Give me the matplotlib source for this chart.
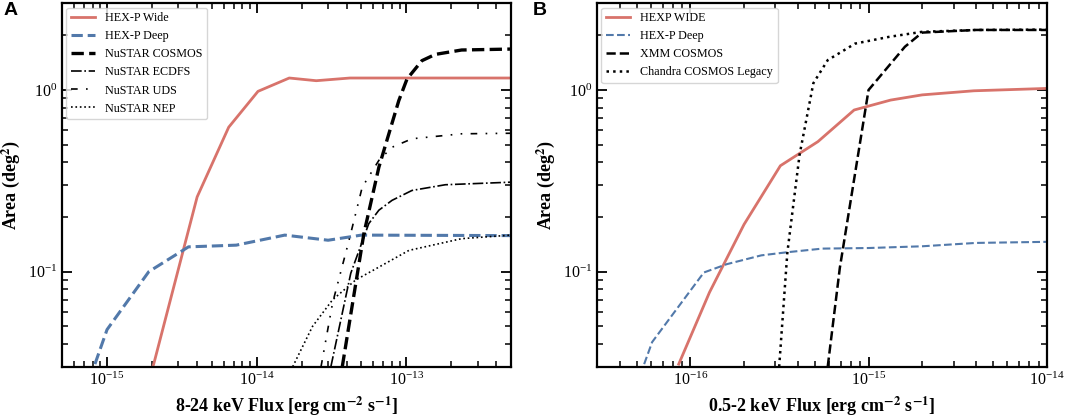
import numpy as np
import matplotlib
matplotlib.use('Agg')
import matplotlib.pyplot as plt
from matplotlib.ticker import LogLocator, NullFormatter

plt.rcParams['font.family'] = 'serif'
plt.rcParams['font.serif'] = ['Liberation Serif', 'DejaVu Serif']
plt.rcParams['mathtext.fontset'] = 'stix'

# ---- panel A: 8-24 keV ----
wide_a_x = [1.9e-15, 2.05e-15, 4.0e-15, 6.5e-15, 1.02e-14, 1.65e-14, 2.5e-14, 4.2e-14, 5e-13]
wide_a_y = [0.026, 0.031, 0.258, 0.624, 0.983, 1.164, 1.125, 1.164, 1.164]

deep_a_x = [8.3e-16, 1.0e-15, 1.9e-15, 3.5e-15, 7.3e-15, 1.54e-14, 3.0e-14, 5.0e-14, 5e-13]
deep_a_y = [0.031, 0.048, 0.100, 0.137, 0.140, 0.159, 0.149, 0.159, 0.158]

cosmos_x = [3.73e-14, 5.2e-14, 6.55e-14, 8.9e-14, 1.01e-13, 1.27e-13, 1.56e-13, 2.34e-13, 5e-13]
cosmos_y = [0.030, 0.162, 0.376, 0.874, 1.15, 1.45, 1.57, 1.66, 1.68]

ecdfs_x = [3.13e-14, 4.25e-14, 5.61e-14, 6.55e-14, 8.02e-14, 1.09e-13, 1.82e-13, 5e-13]
ecdfs_y = [0.030, 0.098, 0.184, 0.218, 0.247, 0.280, 0.301, 0.311]

uds_x = [2.69e-14, 3.21e-14, 4.14e-14, 5.07e-14, 6.55e-14, 8.02e-14, 1.09e-13, 2.34e-13, 5e-13]
uds_y = [0.030, 0.067, 0.149, 0.292, 0.41, 0.484, 0.539, 0.574, 0.578]

nep_x = [1.74e-14, 2.36e-14, 3.21e-14, 4.58e-14, 6.55e-14, 1.04e-13, 2.34e-13, 5e-13]
nep_y = [0.030, 0.050, 0.070, 0.090, 0.106, 0.131, 0.152, 0.159]

# ---- panel B: 0.5-2 keV ----
wide_b_x = [8.6e-17, 1.28e-16, 2.0e-16, 3.2e-16, 5.2e-16, 8.3e-16, 1.33e-15, 2.0e-15, 3.9e-15, 1.0e-14]
wide_b_y = [0.031, 0.077, 0.182, 0.383, 0.52, 0.776, 0.88, 0.94, 0.99, 1.02]

deep_b_x = [5.5e-17, 6.1e-17, 1.19e-16, 1.6e-16, 2.5e-16, 3.5e-16, 5.5e-16, 1.0e-15, 2.0e-15, 4.0e-15, 1.0e-14]
deep_b_y = [0.031, 0.041, 0.099, 0.110, 0.123, 0.128, 0.134, 0.135, 0.138, 0.144, 0.146]

xmm_x = [5.9e-16, 6.9e-16, 1.0e-15, 1.6e-15, 2.0e-15, 4.0e-15, 1.0e-14]
xmm_y = [0.030, 0.105, 1.0, 1.73, 2.07, 2.14, 2.14]

chandra_x = [3.15e-16, 3.5e-16, 4.1e-16, 4.9e-16, 5.9e-16, 8.4e-16, 1.3e-15, 2.0e-15, 4.0e-15, 1.0e-14]
chandra_y = [0.030, 0.127, 0.44, 1.09, 1.46, 1.80, 1.96, 2.09, 2.14, 2.15]

red = '#d8736b'
blue = '#5279aa'

fig = plt.figure(figsize=(10.65, 4.18), dpi=100)
axA = fig.add_axes([0.0582, 0.1227, 0.4216, 0.8694])
axB = fig.add_axes([0.5608, 0.1227, 0.4220, 0.8694])

axA.plot(wide_a_x, wide_a_y, color=red, lw=2.0, label='HEX-P Wide')
axA.plot(deep_a_x, deep_a_y, color=blue, lw=2.2, ls='--', label='HEX-P Deep')
axA.plot(cosmos_x, cosmos_y, color='k', lw=2.4, ls='--', label='NuSTAR COSMOS')
axA.plot(ecdfs_x, ecdfs_y, color='k', lw=1.2, ls='-.', label='NuSTAR ECDFS')
axA.plot(uds_x, uds_y, color='k', lw=1.2, ls=(0, (4, 5, 1, 5, 1, 5)), label='NuSTAR UDS')
axA.plot(nep_x, nep_y, color='k', lw=1.2, ls=':', label='NuSTAR NEP')
axA.set_xlim(5e-16, 5e-13)
axA.set_xlabel(r'8-24 keV Flux [erg cm$^{\mathbf{-2}}$ s$^{\mathbf{-1}}$]', fontsize=13, fontweight='bold')

axB.plot(wide_b_x, wide_b_y, color=red, lw=2.0, label='HEXP WIDE')
axB.plot(deep_b_x, deep_b_y, color=blue, lw=1.5, ls='--', label='HEX-P Deep')
axB.plot(xmm_x, xmm_y, color='k', lw=1.8, ls='--', label='XMM COSMOS')
axB.plot(chandra_x, chandra_y, color='k', lw=1.8, ls=':', label='Chandra COSMOS Legacy')
axB.set_xlim(3e-17, 1e-14)
axB.set_xlabel(r'0.5-2 keV Flux [erg cm$^{\mathbf{-2}}$ s$^{\mathbf{-1}}$]', fontsize=13, fontweight='bold')

for ax in (axA, axB):
    ax.set_xscale('log')
    ax.set_yscale('log')
    ax.set_ylim(0.03, 3)
    ax.set_ylabel(r'Area (deg$^{\mathbf{2}}$)', fontsize=13, fontweight='bold')
    ax.yaxis.set_minor_locator(LogLocator(base=10, subs=np.arange(2, 10)))
    ax.yaxis.set_minor_formatter(NullFormatter())
    ax.xaxis.set_minor_locator(LogLocator(base=10, subs=np.arange(2, 10)))
    ax.xaxis.set_minor_formatter(NullFormatter())
    ax.tick_params(which='both', direction='in', top=True, right=True, labelsize=11.5)
    ax.tick_params(which='major', length=7, width=1.3)
    ax.tick_params(which='minor', length=4, width=1.1)
    for s in ax.spines.values():
        s.set_linewidth(1.6)
    ax.legend(loc='upper left', fontsize=8.7, borderaxespad=0.35, handlelength=2.0)

fig.text(0.003, 0.995, 'A', fontsize=14, fontweight='bold', family='Liberation Sans', va='top')
fig.text(0.5, 0.995, 'B', fontsize=14, fontweight='bold', family='Liberation Sans', va='top')

fig.savefig('out.png', dpi=100)
